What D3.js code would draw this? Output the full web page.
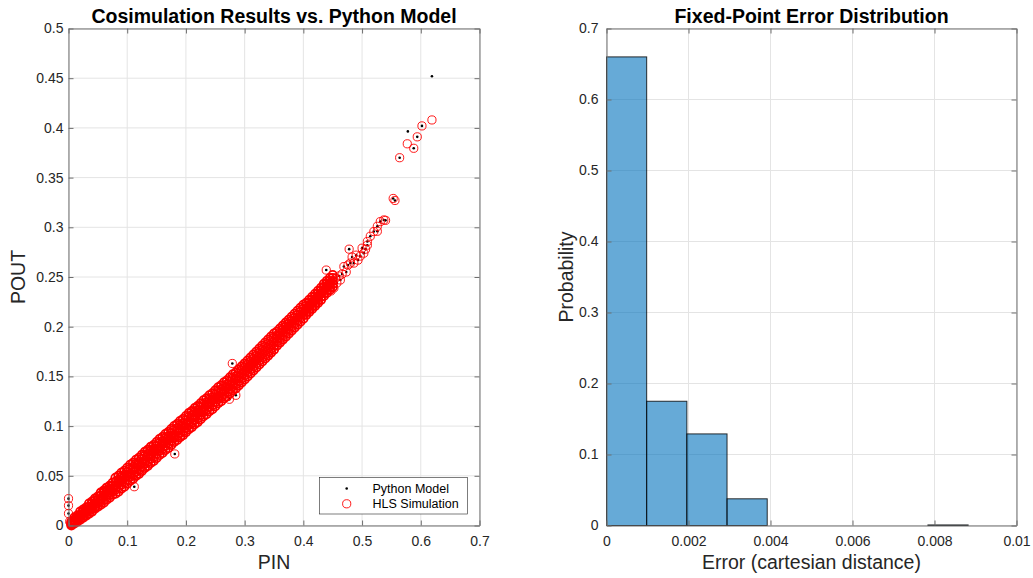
<!DOCTYPE html>
<html>
<head>
<meta charset="utf-8">
<script src="https://cdn.jsdelivr.net/npm/d3@7/dist/d3.min.js"></script>
<style>
    body { margin: 0; background: #fff; }
    svg { display: block; }
    text { font-family: "Liberation Sans", Arial, Helvetica, sans-serif; }
</style>
</head>
<body>
<div id="chart"></div>
<script>
"use strict";

// ---------- data: left plot (cosimulation scatter) ----------
// dense band: PIN columns, five POUT readings per column
const bandPin = [
    0.005, 0.010, 0.015, 0.020, 0.025, 0.030, 0.035, 0.040, 0.045, 0.050,
    0.055, 0.060, 0.065, 0.070, 0.075, 0.080, 0.085, 0.090, 0.095, 0.100,
    0.105, 0.110, 0.115, 0.120, 0.125, 0.130, 0.135, 0.140, 0.145, 0.150,
    0.155, 0.160, 0.165, 0.170, 0.175, 0.180, 0.185, 0.190, 0.195, 0.200,
    0.205, 0.210, 0.215, 0.220, 0.225, 0.230, 0.235, 0.240, 0.245, 0.250,
    0.255, 0.260, 0.265, 0.270, 0.275, 0.280, 0.285, 0.290, 0.295, 0.300,
    0.305, 0.310, 0.315, 0.320, 0.325, 0.330, 0.335, 0.340, 0.345, 0.350,
    0.355, 0.360, 0.365, 0.370, 0.375, 0.380, 0.385, 0.390, 0.395, 0.400,
    0.405, 0.410, 0.415, 0.420, 0.425, 0.430, 0.435, 0.440, 0.445, 0.450
];
const bandPout = [
    [0.000, 0.001, 0.002, 0.003, 0.004], [0.002, 0.004, 0.005, 0.006, 0.008],
    [0.004, 0.006, 0.007, 0.008, 0.010], [0.006, 0.009, 0.010, 0.011, 0.014],
    [0.008, 0.010, 0.012, 0.014, 0.016], [0.010, 0.013, 0.015, 0.016, 0.018],
    [0.012, 0.015, 0.017, 0.019, 0.022], [0.014, 0.017, 0.019, 0.022, 0.024],
    [0.017, 0.019, 0.022, 0.025, 0.027], [0.019, 0.022, 0.025, 0.026, 0.029],
    [0.021, 0.024, 0.027, 0.030, 0.033], [0.023, 0.026, 0.029, 0.033, 0.035],
    [0.026, 0.029, 0.031, 0.035, 0.038], [0.028, 0.031, 0.035, 0.037, 0.040],
    [0.031, 0.034, 0.037, 0.040, 0.043], [0.032, 0.036, 0.040, 0.044, 0.048],
    [0.034, 0.038, 0.043, 0.046, 0.050], [0.037, 0.041, 0.045, 0.049, 0.053],
    [0.039, 0.043, 0.048, 0.051, 0.055], [0.042, 0.046, 0.050, 0.054, 0.058],
    [0.045, 0.049, 0.052, 0.057, 0.061], [0.047, 0.051, 0.056, 0.059, 0.063],
    [0.050, 0.054, 0.058, 0.062, 0.066], [0.052, 0.056, 0.061, 0.064, 0.068],
    [0.055, 0.059, 0.063, 0.067, 0.071], [0.058, 0.062, 0.065, 0.070, 0.074],
    [0.060, 0.064, 0.069, 0.072, 0.076], [0.063, 0.067, 0.071, 0.075, 0.079],
    [0.065, 0.069, 0.074, 0.077, 0.081], [0.068, 0.072, 0.076, 0.080, 0.084],
    [0.071, 0.075, 0.078, 0.083, 0.087], [0.073, 0.077, 0.082, 0.085, 0.089],
    [0.076, 0.080, 0.084, 0.088, 0.092], [0.078, 0.082, 0.087, 0.090, 0.094],
    [0.081, 0.085, 0.089, 0.093, 0.097], [0.084, 0.088, 0.091, 0.096, 0.100],
    [0.086, 0.090, 0.095, 0.098, 0.102], [0.089, 0.093, 0.097, 0.101, 0.105],
    [0.091, 0.095, 0.100, 0.103, 0.107], [0.094, 0.098, 0.102, 0.106, 0.110],
    [0.097, 0.101, 0.104, 0.109, 0.113], [0.099, 0.103, 0.108, 0.111, 0.115],
    [0.102, 0.106, 0.110, 0.114, 0.118], [0.104, 0.108, 0.113, 0.116, 0.120],
    [0.107, 0.111, 0.115, 0.119, 0.123], [0.110, 0.114, 0.117, 0.122, 0.126],
    [0.112, 0.116, 0.121, 0.124, 0.128], [0.115, 0.119, 0.123, 0.127, 0.131],
    [0.117, 0.121, 0.126, 0.129, 0.133], [0.120, 0.124, 0.128, 0.132, 0.136],
    [0.123, 0.127, 0.130, 0.135, 0.139], [0.125, 0.129, 0.134, 0.137, 0.141],
    [0.128, 0.132, 0.136, 0.140, 0.144], [0.130, 0.134, 0.139, 0.142, 0.146],
    [0.133, 0.137, 0.141, 0.145, 0.149], [0.136, 0.140, 0.143, 0.148, 0.152],
    [0.138, 0.142, 0.147, 0.150, 0.154], [0.141, 0.145, 0.149, 0.153, 0.157],
    [0.144, 0.148, 0.152, 0.156, 0.160], [0.147, 0.151, 0.155, 0.159, 0.163],
    [0.150, 0.154, 0.158, 0.162, 0.166], [0.153, 0.157, 0.161, 0.165, 0.169],
    [0.156, 0.160, 0.164, 0.168, 0.172], [0.159, 0.163, 0.167, 0.171, 0.175],
    [0.162, 0.166, 0.170, 0.174, 0.178], [0.165, 0.169, 0.173, 0.177, 0.181],
    [0.168, 0.172, 0.176, 0.180, 0.184], [0.171, 0.175, 0.179, 0.183, 0.187],
    [0.174, 0.178, 0.182, 0.186, 0.190], [0.177, 0.181, 0.185, 0.189, 0.193],
    [0.181, 0.185, 0.188, 0.191, 0.195], [0.184, 0.188, 0.191, 0.194, 0.198],
    [0.187, 0.191, 0.194, 0.197, 0.201], [0.190, 0.194, 0.197, 0.200, 0.204],
    [0.193, 0.197, 0.200, 0.203, 0.207], [0.196, 0.200, 0.203, 0.206, 0.210],
    [0.199, 0.203, 0.206, 0.209, 0.213], [0.202, 0.206, 0.209, 0.212, 0.216],
    [0.205, 0.209, 0.212, 0.215, 0.219], [0.208, 0.212, 0.215, 0.218, 0.222],
    [0.212, 0.215, 0.218, 0.221, 0.224], [0.215, 0.218, 0.221, 0.224, 0.227],
    [0.218, 0.221, 0.224, 0.227, 0.230], [0.221, 0.224, 0.227, 0.230, 0.233],
    [0.224, 0.227, 0.230, 0.233, 0.236], [0.227, 0.230, 0.233, 0.236, 0.239],
    [0.231, 0.234, 0.237, 0.240, 0.243], [0.234, 0.237, 0.240, 0.243, 0.246],
    [0.237, 0.240, 0.243, 0.246, 0.249], [0.240, 0.243, 0.246, 0.249, 0.252]
];
// points seen on their own (model dot inside a simulation circle)
const matchedPoints = [
    [0.000, 0.027], [0.000, 0.020], [0.000, 0.012], [0.002, 0.004],
    [0.112, 0.039], [0.181, 0.072], [0.274, 0.127], [0.285, 0.131],
    [0.279, 0.163], [0.439, 0.257], [0.478, 0.278],
    [0.447, 0.236], [0.452, 0.239], [0.455, 0.249], [0.457, 0.244],
    [0.461, 0.251], [0.463, 0.247], [0.466, 0.253], [0.469, 0.2605],
    [0.473, 0.255], [0.476, 0.262], [0.480, 0.264], [0.483, 0.270],
    [0.486, 0.264], [0.490, 0.272], [0.493, 0.267], [0.497, 0.271],
    [0.500, 0.279], [0.503, 0.274], [0.506, 0.278], [0.509, 0.282],
    [0.509, 0.2857], [0.514, 0.291], [0.520, 0.2957], [0.526, 0.301],
    [0.526, 0.296], [0.531, 0.3057], [0.537, 0.3074], [0.540, 0.307],
    [0.553, 0.329], [0.556, 0.327], [0.564, 0.370], [0.588, 0.3795],
    [0.594, 0.391], [0.602, 0.402]
];
const hlsOnly = [[0.577, 0.384], [0.619, 0.408]];
const pythonOnly = [[0.578, 0.3965], [0.619, 0.452]];

const scatterXTicks = [0, 0.1, 0.2, 0.3, 0.4, 0.5, 0.6, 0.7];
const scatterYTicks = [0, 0.05, 0.1, 0.15, 0.2, 0.25, 0.3, 0.35, 0.4, 0.45, 0.5];

// ---------- data: right plot (error histogram) ----------
const binEdges = [0, 0.00098, 0.00196, 0.00294, 0.00392, 0.0049, 0.00588, 0.00686, 0.00784, 0.00882];
const binProb = [0.66, 0.175, 0.129, 0.0376, 0, 0, 0, 0, 0.0008];
const histXTicks = [0, 0.002, 0.004, 0.006, 0.008, 0.01];
const histYTicks = [0, 0.1, 0.2, 0.3, 0.4, 0.5, 0.6, 0.7];

// ---------- layout ----------
const width = 1033, height = 578;
const axisColor = "#6e6e6e", gridColor = "#e4e4e4", textColor = "#262626";
const axTop = 28.5, axBottom = 525.5;
const leftBox = {x0: 68.5, x1: 479.5};
const rightBox = {x0: 606.5, x1: 1016.5};

const svg = d3.select("#chart").append("svg")
    .attr("width", width)
    .attr("height", height)
    .style("background", "#fff");

const fmt = d3.format("~g");

/**
 * axes box with grid, inward ticks on all sides, labels
 */
function frame(x, y, xTicks, yTicks, opts) {
    const g = svg.append("g");
    const [x0, x1] = x.range();
    const [y0, y1] = y.range();

    // grid
    g.append("g").selectAll("line").data(xTicks).join("line")
        .attr("x1", d => x(d)).attr("x2", d => x(d))
        .attr("y1", y1).attr("y2", y0)
        .attr("stroke", gridColor);
    g.append("g").selectAll("line").data(yTicks).join("line")
        .attr("x1", x0).attr("x2", x1)
        .attr("y1", d => y(d)).attr("y2", d => y(d))
        .attr("stroke", gridColor);

    const plot = g.append("g");

    const styleAxis = (sel, showText) => {
        sel.select(".domain").attr("stroke", axisColor);
        sel.selectAll(".tick line").attr("stroke", axisColor);
        sel.selectAll(".tick text")
            .attr("fill", textColor)
            .style("font-size", "14px")
            .style("display", showText ? null : "none");
        sel.attr("font-family", null);
    };

    const axes = g.append("g");
    axes.append("g").attr("transform", `translate(0,${y0})`)
        .call(d3.axisBottom(x).tickValues(xTicks).tickFormat(fmt)
            .tickSizeInner(-5).tickSizeOuter(0).tickPadding(10.5))
        .call(s => styleAxis(s, true));
    axes.append("g").attr("transform", `translate(0,${y1})`)
        .call(d3.axisTop(x).tickValues(xTicks).tickSizeInner(-5).tickSizeOuter(0))
        .call(s => styleAxis(s, false));
    axes.append("g").attr("transform", `translate(${x0},0)`)
        .call(d3.axisLeft(y).tickValues(yTicks).tickFormat(fmt)
            .tickSizeInner(-5).tickSizeOuter(0).tickPadding(opts.yPad))
        .call(s => styleAxis(s, true));
    axes.append("g").attr("transform", `translate(${x1},0)`)
        .call(d3.axisRight(y).tickValues(yTicks).tickSizeInner(-5).tickSizeOuter(0))
        .call(s => styleAxis(s, false));

    const cx = (x0 + x1) / 2, cy = (y0 + y1) / 2;
    g.append("text")
        .attr("x", cx).attr("y", 22.5)
        .attr("text-anchor", "middle")
        .style("font-size", "19.5px").style("font-weight", "bold")
        .attr("fill", "#000")
        .text(opts.title);
    g.append("text")
        .attr("x", cx).attr("y", 568.5)
        .attr("text-anchor", "middle")
        .style("font-size", "19.5px")
        .attr("fill", textColor)
        .text(opts.xLabel);
    g.append("text")
        .attr("transform", `translate(${opts.yLabelX},${cy}) rotate(-90)`)
        .attr("text-anchor", "middle")
        .style("font-size", "19.5px")
        .attr("fill", textColor)
        .text(opts.yLabel);

    return {plot, axes};
}

// ---------- left: scatter ----------
const xs = d3.scaleLinear().domain([0, 0.7]).range([leftBox.x0, leftBox.x1]);
const ys = d3.scaleLinear().domain([0, 0.5]).range([axBottom, axTop]);
const left = frame(xs, ys, scatterXTicks, scatterYTicks, {
    title: "Cosimulation Results vs. Python Model",
    xLabel: "PIN", yLabel: "POUT", yPad: 5, yLabelX: 25
});

const bandPoints = bandPin.flatMap((p, i) => bandPout[i].map(v => [p, v]));
const pythonPts = matchedPoints.concat(pythonOnly);
const hlsPts = matchedPoints.concat(hlsOnly);

left.plot.append("g").selectAll("circle").data(pythonPts).join("circle")
    .attr("cx", d => xs(d[0])).attr("cy", d => ys(d[1]))
    .attr("r", 1.3).attr("fill", "#000");
// the band stands for thousands of overlapping circles, so its rings are drawn heavier
left.plot.append("g").selectAll("circle").data(bandPoints).join("circle")
    .attr("cx", d => xs(d[0])).attr("cy", d => ys(d[1]))
    .attr("r", 4.2).attr("fill", "none")
    .attr("stroke", "#ff0000").attr("stroke-width", 1.8);
left.plot.append("g").selectAll("circle").data(hlsPts).join("circle")
    .attr("cx", d => xs(d[0])).attr("cy", d => ys(d[1]))
    .attr("r", 4.1).attr("fill", "none")
    .attr("stroke", "#ff0000").attr("stroke-width", 0.9);

// legend
const legend = svg.append("g").attr("transform", "translate(319.5,477.5)");
legend.append("rect").attr("width", 148).attr("height", 36.5)
    .attr("fill", "#fff").attr("stroke", textColor).attr("stroke-width", 0.6);
legend.append("circle").attr("cx", 27.2).attr("cy", 11).attr("r", 1.3).attr("fill", "#000");
legend.append("circle").attr("cx", 27.2).attr("cy", 26.3).attr("r", 4.1)
    .attr("fill", "none").attr("stroke", "#ff0000").attr("stroke-width", 0.9);
legend.selectAll("text").data(["Python Model", "HLS Simulation"]).join("text")
    .attr("x", 53).attr("y", (d, i) => 15 + i * 15.5)
    .style("font-size", "12.5px").attr("fill", "#000")
    .text(d => d);

// ---------- right: histogram ----------
const xh = d3.scaleLinear().domain([0, 0.01]).range([rightBox.x0, rightBox.x1]);
const yh = d3.scaleLinear().domain([0, 0.7]).range([axBottom, axTop]);
const right = frame(xh, yh, histXTicks, histYTicks, {
    title: "Fixed-Point Error Distribution",
    xLabel: "Error (cartesian distance)", yLabel: "Probability", yPad: 8, yLabelX: 573
});

right.plot.append("g").selectAll("rect").data(binProb).join("rect")
    .attr("x", (d, i) => xh(binEdges[i]))
    .attr("width", (d, i) => xh(binEdges[i + 1]) - xh(binEdges[i]))
    .attr("y", d => yh(d))
    .attr("height", d => yh(0) - yh(d))
    .attr("fill", "#0072bd").attr("fill-opacity", 0.6)
    .attr("stroke", "#000").attr("stroke-opacity", 0.8).attr("stroke-width", 1);
</script>
</body>
</html>
